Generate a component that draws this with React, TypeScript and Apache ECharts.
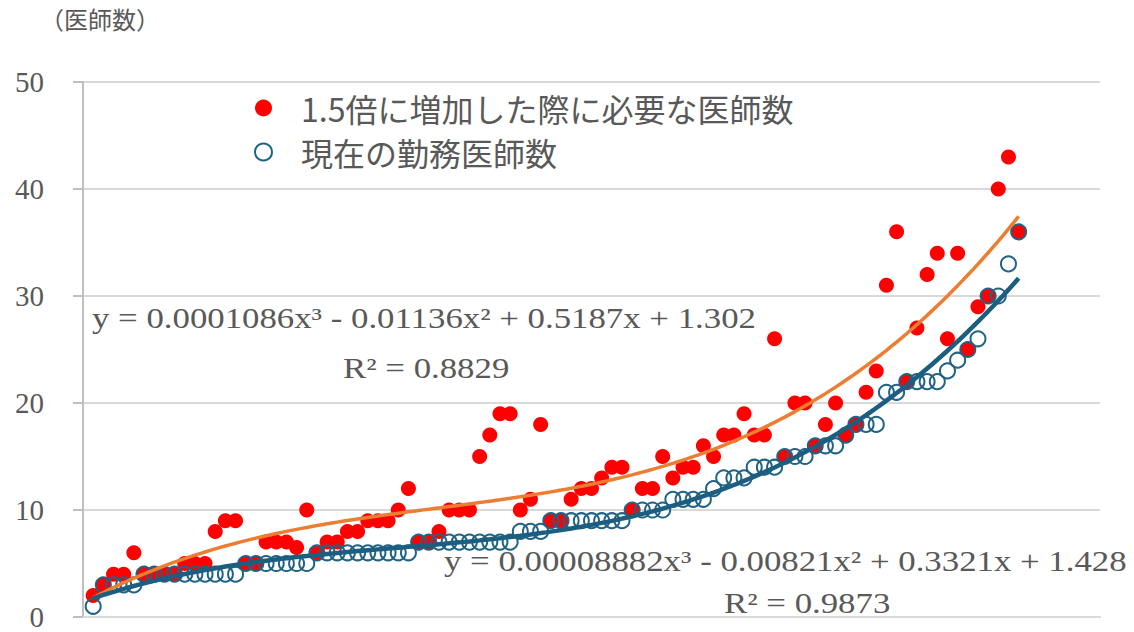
import React, { useEffect, useRef } from "react";
import * as echarts from "echarts";

// Index of each hospital (x) and values
const indexes: number[] = Array.from({ length: 92 }, (_, i) => i + 1);

const needed: number[] = [
  2, 3, 4, 4, 6, 4, 4, 4, 4, 5,
  5, 5, 8, 9, 9, 5, 5, 7, 7, 7,
  6.5, 10, 6, 7, 7, 8, 8, 9, 9, 9,
  10, 12, 7, 7, 8, 10, 10, 10, 15, 17,
  19, 19, 10, 11, 18, 9, 9, 11, 12, 12,
  13, 14, 14, 10, 12, 12, 15, 13, 14, 14,
  16, 15, 17, 17, 19, 17, 17, 26, 15, 20,
  20, 16, 18, 20, 17, 18, 21, 23, 31, 36,
  22, 27, 32, 34, 26, 34, 25, 29, 30, 40,
  43, 36,
];

const current: number[] = [
  1, 3, 3, 3, 3, 4, 4, 4, 4, 4,
  4, 4, 4, 4, 4, 5, 5, 5, 5, 5,
  5, 5, 6, 6, 6, 6, 6, 6, 6, 6,
  6, 6, 7, 7, 7, 7, 7, 7, 7, 7,
  7, 7, 8, 8, 8, 9, 9, 9, 9, 9,
  9, 9, 9, 10, 10, 10, 10, 11, 11, 11,
  11, 12, 13, 13, 13, 14, 14, 14, 15, 15,
  15, 16, 16, 16, 17, 18, 18, 18, 21, 21,
  22, 22, 22, 22, 23, 24, 25, 26, 30, 30,
  33, 36,
];

// Trend line coefficients shown on the chart (a x^3 + b x^2 + c x + d)
const neededCoef: number[] = [0.0001086, -0.01136, 0.5187, 1.302];
const currentCoef: number[] = [0.00008882, -0.00821, 0.3321, 1.428];

const seriesNames: string[] = ["1.5倍に増加した際に必要な医師数", "現在の勤務医師数"];
const eqTexts: string[] = [
  "y = 0.0001086x³ - 0.01136x² + 0.5187x + 1.302",
  "R² = 0.8829",
  "y = 0.00008882x³ - 0.00821x² + 0.3321x + 1.428",
  "R² = 0.9873",
];
const yTitle = "（医師数）";

const FONT = "'Liberation Serif', 'DejaVu Serif', 'Noto Sans CJK JP', serif";
const CJK = "'Noto Sans CJK JP', 'Liberation Serif', serif";

function trend(coef: number[]): number[][] {
  const pts: number[][] = [];
  const x0 = indexes[0];
  const x1 = indexes[indexes.length - 1];
  for (let x = x0; x <= x1 + 1e-9; x += 0.5) {
    pts.push([x, ((coef[0] * x + coef[1]) * x + coef[2]) * x + coef[3]]);
  }
  return pts;
}

export default function App() {
  const ref = useRef<HTMLDivElement>(null);
  useEffect(() => {
    if (!ref.current) return;
    const chart = echarts.init(ref.current, undefined, { renderer: "svg" });
    const txt = { fill: "#595959", fontFamily: FONT, fontSize: 29, textVerticalAlign: "middle" };
    const sx = 1.2;
    chart.setOption({
      animation: false,
      backgroundColor: "#ffffff",
      grid: { left: 83, right: 34, top: 82, bottom: 15 },
      xAxis: {
        type: "value",
        min: 0,
        max: 100,
        axisLine: { show: true, lineStyle: { color: "#D9D9D9", width: 2 } },
        axisTick: { show: false },
        axisLabel: { show: false },
        splitLine: { show: false },
      },
      yAxis: {
        type: "value",
        min: 0,
        max: 50,
        interval: 10,
        axisLine: { show: true, onZero: false, lineStyle: { color: "#BFBFBF", width: 2 } },
        axisTick: { show: true, inside: false, length: 10, lineStyle: { color: "#BFBFBF", width: 2 } },
        axisLabel: { color: "#595959", fontSize: 29, fontFamily: FONT, margin: 39 },
        splitLine: { show: true, lineStyle: { color: "#D9D9D9", width: 2 } },
      },
      legend: {
        orient: "vertical",
        left: 254,
        top: 91,
        padding: 0,
        itemGap: 10,
        itemWidth: 17,
        itemHeight: 17,
        data: [
          { name: seriesNames[0], icon: "circle" },
          { name: seriesNames[1], icon: "circle" },
        ],
        textStyle: { color: "#595959", fontSize: 32, fontFamily: CJK, lineHeight: 34, padding: [0, 0, 0, 24] },
      },
      graphic: [
        { type: "text", left: 40, top: 6, style: { text: yTitle, fill: "#595959", fontFamily: CJK, fontSize: 24 } },
        { type: "text", x: 92, y: 318, scaleX: sx, style: { ...txt, text: eqTexts[0] } },
        { type: "text", x: 343, y: 368, scaleX: sx, style: { ...txt, text: eqTexts[1] } },
        { type: "text", x: 444, y: 561, scaleX: sx, style: { ...txt, text: eqTexts[2] } },
        { type: "text", x: 724, y: 603, scaleX: sx, style: { ...txt, text: eqTexts[3] } },
      ],
      series: [
        {
          name: seriesNames[0],
          type: "scatter",
          symbol: "circle",
          symbolSize: 15,
          data: indexes.map((x, i) => [x, needed[i]]),
          itemStyle: { color: "#FF0000", opacity: 1 },
          z: 2,
        },
        {
          name: seriesNames[1],
          type: "scatter",
          symbol: "circle",
          symbolSize: 15,
          data: indexes.map((x, i) => [x, current[i]]),
          itemStyle: { color: "rgba(255,255,255,0)", borderColor: "#1F6385", borderWidth: 2, opacity: 1 },
          z: 3,
        },
        {
          name: "needed-trend",
          type: "line",
          showSymbol: false,
          symbol: "none",
          data: trend(neededCoef),
          lineStyle: { color: "#ED7D31", width: 3.5 },
          silent: true,
          z: 4,
        },
        {
          name: "current-trend",
          type: "line",
          showSymbol: false,
          symbol: "none",
          data: trend(currentCoef),
          lineStyle: { color: "#1B5E80", width: 4.5 },
          silent: true,
          z: 5,
        },
      ],
    });
    return () => chart.dispose();
  }, []);
  return <div ref={ref} style={{ width: 1134, height: 632, position: "absolute", left: 0, top: 0 }} />;
}
